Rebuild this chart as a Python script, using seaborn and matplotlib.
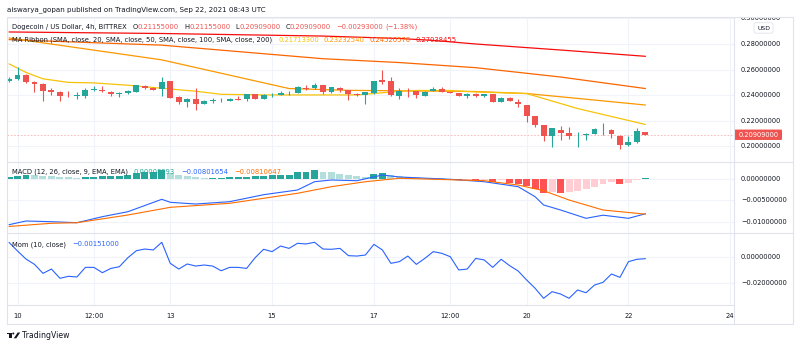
import numpy as np
import pandas as pd
import matplotlib
matplotlib.use("Agg")
import matplotlib.pyplot as plt
import matplotlib.transforms as mtransforms
from matplotlib.lines import Line2D
from matplotlib.patches import FancyBboxPatch, Rectangle, Circle, Polygon
import seaborn as sns

# ---------------- data (DOGE/USD, 4h bars, Bittrex) ----------------
first_bar = "2021-09-09 20:00"

opens = [0.2514, 0.2524, 0.2558, 0.2503, 0.2488, 0.2441, 0.2425, 0.2403, 0.2400, 0.2396,
         0.2438, 0.2443, 0.2427, 0.2409, 0.2415, 0.2427, 0.2474, 0.2459, 0.2448, 0.2508,
         0.2386, 0.2347, 0.2373, 0.2334, 0.2352, 0.2362, 0.2357, 0.2370, 0.2367, 0.2409,
         0.2373, 0.2400, 0.2402, 0.2416, 0.2417, 0.2457, 0.2454, 0.2477, 0.2423, 0.2459,
         0.2441, 0.2412, 0.2402, 0.2415, 0.2516, 0.2511, 0.2396, 0.2435, 0.2433, 0.2396,
         0.2433, 0.2448, 0.2426, 0.2417, 0.2396, 0.2412, 0.2391, 0.2408, 0.2345, 0.2380,
         0.2350, 0.2323, 0.2235, 0.2167, 0.2079, 0.2130, 0.2105, 0.2088, 0.2089, 0.2099,
         0.2127, 0.2130, 0.2084, 0.2011, 0.2032, 0.21155]
highs = [0.2540, 0.2620, 0.2562, 0.2511, 0.2495, 0.2459, 0.2433, 0.2430, 0.2427, 0.2459,
         0.2474, 0.2472, 0.2433, 0.2427, 0.2441, 0.2480, 0.2480, 0.2462, 0.2545, 0.2514,
         0.2390, 0.2380, 0.2456, 0.2362, 0.2378, 0.2378, 0.2378, 0.2390, 0.2412, 0.2412,
         0.2409, 0.2417, 0.2433, 0.2433, 0.2472, 0.2480, 0.2495, 0.2480, 0.2467, 0.2462,
         0.2443, 0.2415, 0.2425, 0.2514, 0.2597, 0.2542, 0.2454, 0.2454, 0.2436, 0.2430,
         0.2464, 0.2464, 0.2428, 0.2420, 0.2415, 0.2415, 0.2412, 0.2410, 0.2383, 0.2383,
         0.2370, 0.2326, 0.2238, 0.2170, 0.2144, 0.2157, 0.2152, 0.2110, 0.2102, 0.2140,
         0.2183, 0.2133, 0.2087, 0.2084, 0.2146, 0.21155]
lows = [0.2501, 0.2519, 0.2497, 0.2427, 0.2357, 0.2402, 0.2357, 0.2384, 0.2370, 0.2380,
        0.2436, 0.2425, 0.2396, 0.2388, 0.2410, 0.2425, 0.2450, 0.2440, 0.2396, 0.2376,
        0.2331, 0.2310, 0.2284, 0.2330, 0.2339, 0.2343, 0.2352, 0.2362, 0.2358, 0.2370,
        0.2370, 0.2386, 0.2400, 0.2405, 0.2415, 0.2441, 0.2452, 0.2413, 0.2420, 0.2425,
        0.2359, 0.2394, 0.2334, 0.2412, 0.2491, 0.2394, 0.2370, 0.2386, 0.2376, 0.2394,
        0.2430, 0.2425, 0.2420, 0.2393, 0.2380, 0.2388, 0.2388, 0.2343, 0.2343, 0.2352,
        0.2308, 0.2188, 0.2152, 0.2042, 0.1995, 0.2052, 0.2058, 0.1995, 0.2052, 0.2097,
        0.2089, 0.2063, 0.1980, 0.2003, 0.2027, 0.20909]
closes = [0.2527, 0.2558, 0.2501, 0.2490, 0.2435, 0.2427, 0.2396, 0.2400, 0.2402, 0.2441,
          0.2448, 0.2430, 0.2409, 0.2420, 0.2433, 0.2477, 0.2454, 0.2443, 0.2505, 0.2380,
          0.2345, 0.2373, 0.2334, 0.2355, 0.2360, 0.2363, 0.2370, 0.2367, 0.2409, 0.2373,
          0.2402, 0.2403, 0.2417, 0.2418, 0.2462, 0.2454, 0.2477, 0.2423, 0.2462, 0.2441,
          0.2407, 0.2402, 0.2423, 0.2511, 0.2505, 0.2402, 0.2433, 0.2431, 0.2402, 0.2427,
          0.2448, 0.2427, 0.2423, 0.2396, 0.2412, 0.2391, 0.2409, 0.2345, 0.2380, 0.2355,
          0.2329, 0.2235, 0.2167, 0.2079, 0.2141, 0.2105, 0.2084, 0.2090, 0.2099, 0.2136,
          0.2130, 0.2099, 0.2011, 0.2037, 0.21202, 0.20909]

# MA Ribbon (SMA 20 / 50 / 100 / 200), values at bar numbers
sma20_bars = [0, 2, 4, 7, 10, 14, 17, 22, 25, 30, 37, 41, 45, 48, 52, 55, 61, 67, 75]
sma20_vals = [0.2645, 0.2578, 0.2528, 0.2500, 0.2496, 0.2478, 0.2460, 0.2431, 0.2407, 0.2402,
              0.2402, 0.2402, 0.2425, 0.2437, 0.2437, 0.2425, 0.2413, 0.2296, 0.217133]
sma50_bars = [0, 18, 33, 40, 48, 55, 61, 67, 75]
sma50_vals = [0.2847, 0.2676, 0.2452, 0.2438, 0.2433, 0.2429, 0.2413, 0.2375, 0.2323254]
sma100_bars = [0, 18, 37, 46, 55, 65, 75]
sma100_vals = [0.2834, 0.2791, 0.2685, 0.2655, 0.2615, 0.2542, 0.2452057]
sma200_bars = [0, 18, 37, 46, 50, 55, 65, 75]
sma200_vals = [0.2894, 0.2882, 0.2862, 0.2843, 0.2828, 0.2800, 0.2753, 0.27038455]

# MACD (12, 26, 9)
macd_bars = [0, 2, 5, 8, 11, 14, 18, 19, 22, 26, 30, 34, 36, 38, 41, 44, 46, 52, 56, 60,
             62, 63, 65, 68, 70, 73, 75]
macd_vals = [-0.01050, -0.00966, -0.00982, -0.01005, -0.00868, -0.00755, -0.00473, -0.00541,
             -0.00580, -0.00527, -0.00368, -0.00261, -0.00073, -0.00034, -0.00050, 0.00080,
             0.00034, -0.00018, -0.00073, -0.00186, -0.00414, -0.00602, -0.00716, -0.00905,
             -0.00834, -0.00905, -0.00801654]
signal_bars = [0, 5, 8, 14, 19, 26, 34, 38, 42, 46, 56, 60, 63, 66, 70, 75]
signal_vals = [-0.01090, -0.01018, -0.01005, -0.00830, -0.00655, -0.00564, -0.00336, -0.00186,
               -0.00073, 0.00005, -0.00050, -0.00148, -0.00277, -0.00489, -0.00716, -0.00810647]
hist = [0.0003, 0.0006, 0.0008, 0.0007, 0.0006, 0.0005, 0.0004, 0.0003, 0.0002, 0.0003,
        0.0004, 0.0005, 0.00055, 0.0006, 0.0007, 0.0012, 0.0014, 0.0015, 0.0020, 0.0013,
        0.0008, 0.0006, 0.0003, 0.0001, 0.00015, 0.0002, 0.00025, 0.0003, 0.0004, 0.0005,
        0.0006, 0.0007, 0.0008, 0.0009, 0.0014, 0.0015, 0.0019, 0.0015, 0.0014, 0.0011,
        0.0007, 0.0005, 0.0004, 0.0010, 0.0012, 0.0008, 0.0006, 0.0004, 0.0003, 0.0002,
        0.00015, 0.0001, -0.0001, -0.0004, -0.0003, -0.0005, -0.0003, -0.0008, -0.0004, -0.0011,
        -0.0013, -0.00175, -0.0025, -0.0033, -0.0031, -0.00335, -0.0031, -0.0028, -0.0025, -0.0019,
        -0.0013, -0.0008, -0.0013, -0.0010, -0.0004, 0.00008993]

# Momentum (10, close)
mom = [0.0110, 0.0044, -0.0018, -0.0059, -0.0128, -0.0095, -0.0166, -0.0151, -0.0156, -0.0082,
       -0.0082, -0.0123, -0.0090, -0.0077, -0.0008, 0.0046, 0.0059, 0.0052, 0.0111, -0.0051,
       -0.0095, -0.0056, -0.0072, -0.0064, -0.0072, -0.0108, -0.0082, -0.0082, -0.0090, -0.0008,
       0.0057, 0.0039, 0.0082, 0.0064, 0.0103, 0.0098, 0.0111, 0.0059, 0.0057, 0.0064,
       0.0008, 0.0005, 0.0013, 0.0095, 0.0052, -0.0051, -0.0038, 0.0005, -0.0059, -0.0013,
       0.0039, 0.0026, 0.0000, -0.0102, -0.0095, -0.0013, -0.0025, -0.0082, -0.0020, -0.0069,
       -0.0110, -0.0179, -0.0243, -0.0320, -0.0269, -0.0287, -0.0320, -0.0256, -0.0277, -0.0218,
       -0.0197, -0.0133, -0.0159, -0.0038, -0.0020, -0.00151]

tick_times = ["2021-09-10", "2021-09-11 12:00", "2021-09-13", "2021-09-15", "2021-09-17",
              "2021-09-18 12:00", "2021-09-20", "2021-09-22", "2021-09-24"]
tick_labels = ["10", "12:00", "13", "15", "17", "12:00", "20", "22", "24"]
price_ticks = [0.20, 0.22, 0.24, 0.26, 0.28, 0.30]
macd_ticks = [0.0, -0.005, -0.01]
mom_ticks = [0.0, -0.02]
last_price = closes[-1]

# ---------------- style ----------------
sns.set_style("white")
plt.rcParams["font.family"] = ["DejaVu Sans"]

UP, DOWN = "#26a69a", "#ef5350"
TXT = "#131722"
GRID = "#f0f3fa"
BORDER = "#e0e3eb"
MA_COLORS = ["#f6c309", "#fb9800", "#fb6500", "#f60c0c"]
BLUE, ORANGE = "#2962ff", "#ff6d00"

W, H = 800, 348
fig = plt.figure(figsize=(W / 100, H / 100), dpi=100)
fig.patch.set_facecolor("white")
px = mtransforms.Affine2D().scale(1 / W, -1 / H).translate(0, 1) + fig.transFigure


def add_ax(x0, y0, x1, y1):
    return fig.add_axes([x0 / W, 1 - y1 / H, (x1 - x0) / W, (y1 - y0) / H])


n = len(closes)
x = np.arange(n)
t0 = pd.Timestamp(first_bar)
tick_pos = [(pd.Timestamp(t) - t0) / pd.Timedelta(hours=4) for t in tick_times]
XLIM = (-0.24, 85.38)

ax_p = add_ax(7, 17, 733.5, 161.7)
ax_m = add_ax(7, 161.7, 733.5, 233)
ax_o = add_ax(7, 233, 733.5, 305)
limits = {ax_p: (0.18805, 0.30109), ax_m: (-0.01239, 0.00382), ax_o: (-0.03715, 0.01823)}
yt = {ax_p: price_ticks, ax_m: macd_ticks, ax_o: mom_ticks}

for ax in (ax_p, ax_m, ax_o):
    ax.set_xlim(*XLIM)
    ax.set_ylim(*limits[ax])
    ax.set_xticks(tick_pos)
    ax.set_yticks(yt[ax])
    ax.grid(True, color=GRID, lw=0.8)
    ax.set_axisbelow(True)
    ax.tick_params(length=0, labelleft=False, labelbottom=False)
    for s in ax.spines.values():
        s.set_visible(False)
    ax.set_facecolor("none")

# ---- price pane: candles + MA ribbon ----
o = np.array(opens); c = np.array(closes)
col = np.where(c >= o, UP, DOWN)
min_body = 0.0007
body_h = np.maximum(np.abs(c - o), min_body)
body_lo = np.where(np.abs(c - o) < min_body, (o + c) / 2 - min_body / 2, np.minimum(o, c))
ax_p.vlines(x, lows, highs, colors=col, lw=0.8, zorder=3)
ax_p.bar(x, body_h, bottom=body_lo, width=0.7, color=col, linewidth=0, zorder=4)

for bars, vals, colr in [(sma200_bars, sma200_vals, MA_COLORS[3]),
                         (sma100_bars, sma100_vals, MA_COLORS[2]),
                         (sma50_bars, sma50_vals, MA_COLORS[1]),
                         (sma20_bars, sma20_vals, MA_COLORS[0])]:
    sns.lineplot(x=bars, y=vals, ax=ax_p, color=colr, linewidth=0.9, zorder=2)

ax_p.axhline(last_price, color=DOWN, alpha=0.45, lw=0.6, ls=(0, (2, 2)), zorder=1)

# ---- MACD pane ----
hist_colors = []
prev = None
for h in hist:
    rising = prev is None or h > prev
    if h >= 0:
        hist_colors.append(UP if rising else "#b2dfdb")
    else:
        hist_colors.append("#ffcdd2" if rising else "#ff5252")
    prev = h
ax_m.bar(x, hist, width=0.82, color=hist_colors, linewidth=0, zorder=2)
sns.lineplot(x=macd_bars, y=macd_vals, ax=ax_m, color=BLUE, linewidth=0.8, zorder=3)
sns.lineplot(x=signal_bars, y=signal_vals, ax=ax_m, color=ORANGE, linewidth=0.8, zorder=3)

# ---- Momentum pane ----
sns.lineplot(x=x, y=mom, ax=ax_o, color=BLUE, linewidth=0.8, zorder=3)

for ax in (ax_p, ax_m, ax_o):
    ax.set_xlabel(""); ax.set_ylabel("")

ax_o.set_xticklabels(tick_labels)
ax_o.tick_params(axis="x", labelbottom=True, pad=5.5, labelsize=4.9, labelcolor=TXT)

# ---- right price scales ----
def scale_ax(y0, y1, ylim):
    a = add_ax(733.5, y0, 793, y1)
    a.set_xlim(0, 59.5)
    a.set_ylim(*ylim)
    a.axis("off")
    return a

r_p = scale_ax(17.8, 161.7, (limits[ax_p][0], limits[ax_p][1] - 0.8 / 1280))
r_m = scale_ax(161.7, 233, limits[ax_m])
r_o = scale_ax(233, 305, limits[ax_o])
for a, ticks in [(r_p, price_ticks), (r_m, macd_ticks), (r_o, mom_ticks)]:
    for v in ticks:
        lab = f"{v:.8f}".replace("-", "\u2212")
        if lab == "\u22120.00000000":
            lab = "0.00000000"
        a.text(7.5, v, lab, fontsize=4.8, color=TXT, va="center", ha="left", clip_on=True)

half = 5.2 / 1280
r_p.add_patch(FancyBboxPatch((1, last_price - half), 47.5, 2 * half,
                             boxstyle="round,pad=0,rounding_size=0.8", mutation_aspect=half / 3,
                             facecolor=DOWN, edgecolor="none", zorder=5))
r_p.text(24.8, last_price, f"{last_price:.8f}", fontsize=4.8, color="white",
         va="center", ha="center", zorder=6)
fig.add_artist(FancyBboxPatch((754, 22.7), 19, 10.5, boxstyle="round,pad=0,rounding_size=2",
                              transform=px, facecolor="white", edgecolor=BORDER, lw=0.6))
fig.text(763.5, 28, "USD", transform=px, fontsize=4.4, color=TXT, ha="center", va="center")

# ---- frame and pane separators ----
def hline(y, x0=7, x1=793):
    fig.add_artist(Line2D([x0, x1], [y, y], transform=px, color=BORDER, lw=0.8))

def vline(xp, y0=17, y1=324):
    fig.add_artist(Line2D([xp, xp], [y0, y1], transform=px, color=BORDER, lw=0.8))

hline(17); hline(324); hline(161.7); hline(233); hline(305, 7, 733.5)
vline(7); vline(793); vline(733.5)

# ---- legend texts ----
renderer = fig.canvas.get_renderer()

def text_run(x0, y0, parts, size=4.9):
    xp = x0
    for s, colr, gap in parts:
        xp += gap
        t = fig.text(xp, y0, s, transform=px, fontsize=size, color=colr, va="center", ha="left",
                     zorder=10)
        xp += t.get_window_extent(renderer=renderer).width

fig.text(7, 10, "aiswarya_gopan published on TradingView.com, Sep 22, 2021 08:43 UTC",
         transform=px, fontsize=5.1, color=TXT, va="center", ha="left")

chg = closes[-1] - closes[-2]
text_run(12, 27, [("Dogecoin / US Dollar, 4h, BITTREX", TXT, 0),
                  ("O", TXT, 6), (f"{opens[-1]:.8f}", DOWN, 0),
                  ("H", TXT, 5), (f"{highs[-1]:.8f}", DOWN, 0),
                  ("L", TXT, 5), (f"{lows[-1]:.8f}", DOWN, 0),
                  ("C", TXT, 5), (f"{closes[-1]:.8f}", DOWN, 0),
                  (f"{chg:.8f}".replace("-", "\u2212"), DOWN, 5),
                  (f"({chg / closes[-2] * 100:.2f}%)".replace("-", "\u2212"), DOWN, 3)])
text_run(12, 40, [("MA Ribbon (SMA, close, 20, SMA, close, 50, SMA, close, 100, SMA, close, 200)", TXT, 0),
                  (f"{sma20_vals[-1]:.8f}", MA_COLORS[0], 6),
                  (f"{sma50_vals[-1]:.8f}", MA_COLORS[1], 5),
                  (f"{sma100_vals[-1]:.8f}", MA_COLORS[2], 5),
                  (f"{sma200_vals[-1]:.8f}", MA_COLORS[3], 5)])
text_run(12, 171.7, [("MACD (12, 26, close, 9, EMA, EMA)", TXT, 0),
                     (f"{hist[-1]:.8f}", UP, 6),
                     (f"{macd_vals[-1]:.8f}".replace("-", "\u2212"), BLUE, 6),
                     (f"{signal_vals[-1]:.8f}".replace("-", "\u2212"), ORANGE, 6)])
text_run(12, 244.3, [("Mom (10, close)", TXT, 0),
                     (f"{mom[-1]:.8f}".replace("-", "\u2212"), BLUE, 6)])

# ---- TradingView mark ----
fig.add_artist(Rectangle((7, 332.5), 4.5, 1.9, transform=px, facecolor=TXT, edgecolor="none"))
fig.add_artist(Rectangle((9.4, 332.5), 2.1, 5.8, transform=px, facecolor=TXT, edgecolor="none"))
fig.add_artist(Circle((13.3, 333.5), 1.0, transform=px, facecolor=TXT, edgecolor="none"))
fig.add_artist(Polygon([(13.8, 338.3), (16.3, 338.3), (20.2, 332.5), (17.7, 332.5)],
                       closed=True, transform=px, facecolor=TXT, edgecolor="none"))
fig.text(22, 335.5, "TradingView", transform=px, fontsize=5.6, color=TXT, va="center", ha="left")

fig.savefig("out.png", dpi=100, facecolor="white")
